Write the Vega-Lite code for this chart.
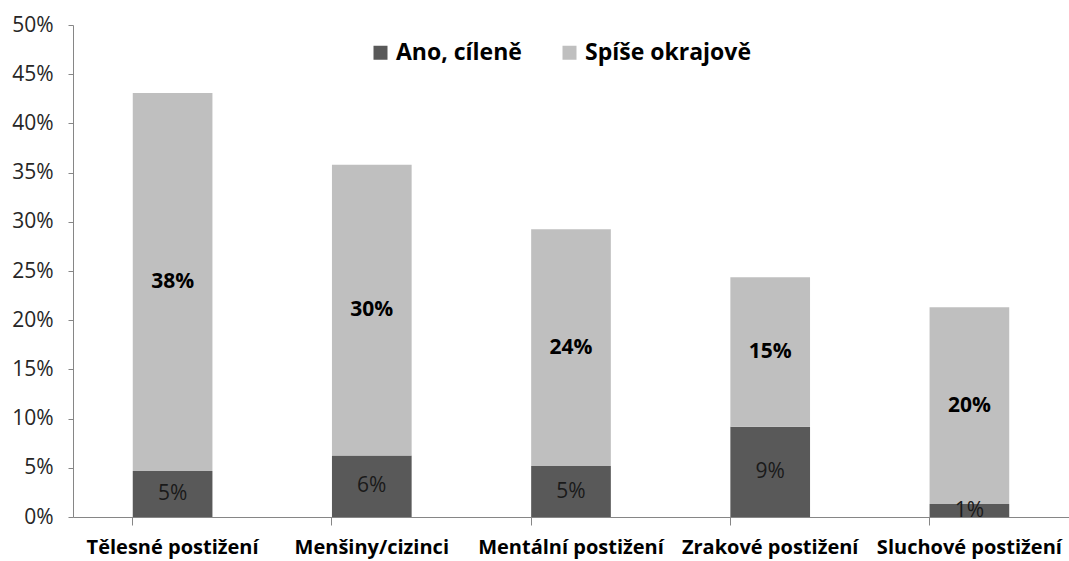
{
  "$schema": "https://vega.github.io/schema/vega-lite/v6.json",
  "autosize": {"type": "none"},
  "padding": {"left": 73, "top": 25, "right": 0, "bottom": 44},
  "width": 996,
  "height": 492,
  "background": "white",
  "config": {
    "view": {"stroke": null},
    "font": "Open Sans",
    "axis": {"grid": false, "domainColor": "#868686", "tickColor": "#868686", "title": null}
  },
  "data": {
    "values": [
      {"cat": "Tělesné postižení", "series": "Ano, cíleně", "value": 0.0467, "label": "5%"},
      {"cat": "Tělesné postižení", "series": "Spíše okrajově", "value": 0.3841, "label": "38%"},
      {"cat": "Menšiny/cizinci", "series": "Ano, cíleně", "value": 0.0625, "label": "6%"},
      {"cat": "Menšiny/cizinci", "series": "Spíše okrajově", "value": 0.2955, "label": "30%"},
      {"cat": "Mentální postižení", "series": "Ano, cíleně", "value": 0.0518, "label": "5%"},
      {"cat": "Mentální postižení", "series": "Spíše okrajově", "value": 0.2406, "label": "24%"},
      {"cat": "Zrakové postižení", "series": "Ano, cíleně", "value": 0.0917, "label": "9%"},
      {"cat": "Zrakové postižení", "series": "Spíše okrajově", "value": 0.152, "label": "15%"},
      {"cat": "Sluchové postižení", "series": "Ano, cíleně", "value": 0.0132, "label": "1%"},
      {"cat": "Sluchové postižení", "series": "Spíše okrajově", "value": 0.2, "label": "20%"}
    ]
  },
  "encoding": {
    "x": {
      "field": "cat",
      "type": "nominal",
      "sort": null,
      "scale": {"paddingInner": 0.6, "paddingOuter": 0.3},
      "axis": {
        "labelAngle": 0,
        "labelFontWeight": "bold",
        "labelFontSize": 20,
        "labelColor": "#000000",
        "labelLimit": 0,
        "labelOverlap": false,
        "tickSize": 8,
        "bandPosition": 0,
        "labelPadding": 12
      }
    }
  },
  "layer": [
    {
      "mark": {"type": "bar"},
      "encoding": {
        "y": {
          "field": "value",
          "type": "quantitative",
          "stack": "zero",
          "scale": {"domain": [0, 0.5], "nice": false},
          "axis": {
            "values": [0, 0.05, 0.1, 0.15, 0.2, 0.25, 0.3, 0.35, 0.4, 0.45, 0.5],
            "format": ".0%",
            "labelFontSize": 21,
            "labelColor": "#262626",
            "tickSize": 5,
            "labelPadding": 15
          }
        },
        "color": {
          "field": "series",
          "type": "nominal",
          "scale": {"domain": ["Ano, cíleně", "Spíše okrajově"], "range": ["#595959", "#BFBFBF"]},
          "legend": {
            "orient": "none",
            "direction": "horizontal",
            "legendX": 296,
            "legendY": 16,
            "title": null,
            "symbolType": "square",
            "symbolSize": 196,
            "symbolStrokeWidth": 0,
            "labelFontSize": 23,
            "labelFontWeight": "bold",
            "labelColor": "#000000",
            "labelLimit": 0,
            "labelOffset": 4,
            "columnPadding": 36,
            "padding": 0
          }
        },
        "order": {"field": "series", "sort": "ascending"}
      }
    },
    {
      "transform": [
        {"stack": "value", "groupby": ["cat"], "sort": [{"field": "series"}], "as": ["v0", "v1"]},
        {"fold": ["v0", "v1"], "as": ["k", "v"]},
        {"aggregate": [{"op": "mean", "field": "v", "as": "mid"}], "groupby": ["cat", "series", "label"]},
        {"filter": "datum.series === 'Spíše okrajově'"}
      ],
      "mark": {"type": "text", "fontSize": 21, "fontWeight": "bold", "color": "#000000", "baseline": "middle"},
      "encoding": {
        "y": {"field": "mid", "type": "quantitative"},
        "text": {"field": "label"}
      }
    },
    {
      "transform": [
        {"stack": "value", "groupby": ["cat"], "sort": [{"field": "series"}], "as": ["v0", "v1"]},
        {"fold": ["v0", "v1"], "as": ["k", "v"]},
        {"aggregate": [{"op": "mean", "field": "v", "as": "mid"}], "groupby": ["cat", "series", "label"]},
        {"filter": "datum.series === 'Ano, cíleně'"}
      ],
      "mark": {"type": "text", "fontSize": 21, "fontWeight": "normal", "color": "#1a1a1a", "baseline": "middle"},
      "encoding": {
        "y": {"field": "mid", "type": "quantitative"},
        "text": {"field": "label"}
      }
    }
  ]
}
